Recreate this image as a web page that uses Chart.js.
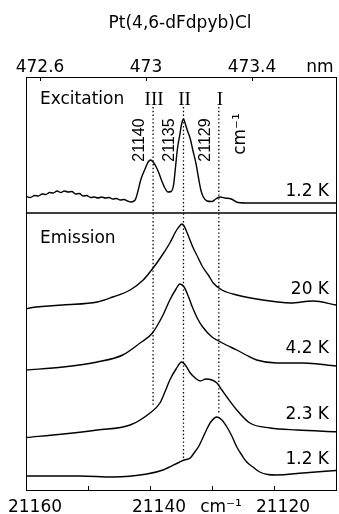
<!DOCTYPE html>
<html><head><meta charset="utf-8">
<script src="https://cdn.jsdelivr.net/npm/chart.js@4"></script>
<style>html,body{margin:0;padding:0;background:#fff;}canvas{display:block;}</style>
</head><body>
<canvas id="c" width="339" height="514"></canvas>
<script>
// ---- text / ticks ----
const chartTitle = 'Pt(4,6-dFdpyb)Cl';
const bottomTicks = [21160, 21150, 21140, 21130, 21120, 21110];
const bottomLabels = ['21160', '', '21140', 'cm\u207B\u00B9', '21120', ''];
const topTicks = [472.6, 473, 473.4];
const topLabels = ['472.6', '473', '473.4'];
const topUnit = 'nm';

// ---- excitation spectrum, 1.2 K (wavenumber cm-1, intensity a.u.) ----
const excWn = [21160.0,21159.3,21158.6,21158.0,21157.4,21156.8,21156.2,21155.6,21155.0,21154.4,21153.8,21153.2,21152.6,21152.0,21151.4,21150.8,21150.2,21149.6,21149.0,21148.4,21147.8,21147.2,21146.6,21146.0,21145.4,21144.8,21144.2,21143.6,21143.1,21142.4,21141.9,21141.5,21140.8,21140.3,21139.9,21139.5,21139.0,21138.5,21138.1,21137.6,21137.1,21136.6,21136.2,21135.9,21135.6,21135.2,21134.9,21134.6,21134.4,21134.0,21133.5,21133.1,21132.6,21132.2,21131.8,21131.4,21130.8,21130.0,21129.4,21128.7,21127.9,21126.9,21125.8,21123.9,21120.0,21115.0,21110.0];
const excI  = [6.5,5.5,7.5,7,9,8.5,10.5,10,12,10.5,12,11,11.5,9,9.5,7,7.5,5.5,6,5,6,5,5.5,4,4.5,3,3.5,2,1,3,13,23,34,41,43,41,36,29,22,15,11,11.5,18,35,53,68,79,84,81,73,64,53,40,26,13,6,2,1.5,4,6,5,4,0.5,0,0,0,0];
const excTemp = '1.2 K';

// ---- emission spectra ----
const emTemps = ['20 K', '4.2 K', '2.3 K', '1.2 K'];
const em20Wn = [21160.0,21159.4,21154.0,21148.5,21146.0,21143.2,21141.1,21140.0,21138.9,21137.7,21136.8,21135.7,21135.2,21134.9,21134.5,21134.0,21133.1,21132.3,21131.5,21130.6,21129.8,21128.4,21126.0,21121.8,21117.4,21113.7,21110.0];
const em20I  = [-4,-3,0,3,8,15,25,33,42,53,62,75,79,81,79,72,58,48,38,30,22,15,10,5,2,4,0];
const em42Wn = [21160.0,21154.0,21148.5,21144.4,21141.6,21139.6,21137.9,21136.8,21135.8,21135.2,21134.5,21133.9,21133.1,21132.3,21131.5,21130.0,21129.2,21127.7,21126.0,21124.5,21122.8,21119.6,21115.3,21110.0];
const em42I  = [-4,-1,4,11,23,33,51,66,77,82,79,71,58,47,39,29,26,21,16,11,6,3,3,0];
const em23Wn = [21160.0,21154.0,21148.5,21143.2,21140.0,21138.4,21137.6,21136.8,21135.8,21134.9,21134.2,21133.5,21132.7,21131.9,21131.0,21130.0,21129.2,21128.4,21127.6,21126.0,21123.9,21120.6,21116.3,21110.0];
const em23I  = [-5.5,-2,2,7,19,29,40,52,63,70,66,59,54,51,53,52,49,42,35,22,9,4,2,0.3];
const em12Wn = [21160.0,21151.3,21146.0,21140.5,21137.9,21135.2,21134.5,21133.5,21132.9,21132.2,21131.5,21130.9,21130.2,21129.2,21128.4,21127.6,21126.8,21126.0,21125.2,21124.4,21123.4,21122.3,21121.0,21119.6,21115.3,21110.0];
const em12I  = [0,0,-1,2,6,14,16,18,23,29,38,46,54,59,56,49,40,29,21,14,9,4,1.5,1,3,5.5];

// ---- stacking offsets (a.u.) ----
const excOffset = 287;
const emOffsets = [185, 124, 58, 14];
const dividerLevel = 277;

// ---- marked lines ----
const lineWn = [21139.5, 21134.6, 21128.9];
const lineRoman = ['III', 'II', 'I'];
const lineLabels = ['21140', '21135', '21129'];
const lineTop = 383;
const lineBottoms = [85, 30, 77];

const pts = (wn, I, off) => wn.map((w, i) => ({x: w, y: I[i] + off}));
const curve = (data) => ({data, borderColor:'#000', borderWidth:1.4, pointRadius:0, fill:false, cubicInterpolationMode:'monotone'});

const datasets = [];
datasets.push(curve(pts(excWn, excI, excOffset)));
const emW = [em20Wn, em42Wn, em23Wn, em12Wn];
const emI = [em20I, em42I, em23I, em12I];
emW.forEach((w, k) => datasets.push(curve(pts(w, emI[k], emOffsets[k]))));
datasets.push({data:[{x:21160,y:dividerLevel},{x:21110,y:dividerLevel}], borderColor:'#000', borderWidth:1.4, pointRadius:0});
lineWn.forEach((w, k) => datasets.push({data:[{x:w,y:lineTop},{x:w,y:lineBottoms[k]}], borderColor:'#000', borderWidth:1.3, borderDash:[1.4,2.4], pointRadius:0}));

const SANS = "'DejaVu Sans', sans-serif";

const deco = {
  id: 'deco',
  afterDraw(chart) {
    const {ctx, chartArea: a, scales} = chart;
    const xs = scales.x, x2 = scales.x2, ys = scales.y;
    ctx.save();
    ctx.strokeStyle = '#000'; ctx.lineWidth = 1;
    // inward ticks
    xs.ticks.forEach(t => { const p = Math.round(xs.getPixelForValue(t.value)) + 0.5; ctx.beginPath(); ctx.moveTo(p, a.bottom); ctx.lineTo(p, a.bottom - 4); ctx.stroke(); });
    x2.ticks.forEach(t => { const p = Math.round(x2.getPixelForValue(t.value)) + 0.5; ctx.beginPath(); ctx.moveTo(p, a.top); ctx.lineTo(p, a.top + 4); ctx.stroke(); });
    ctx.fillStyle = '#000';
    // title
    ctx.font = '17px ' + SANS; ctx.textAlign = 'center'; ctx.textBaseline = 'middle';
    ctx.fillText(chartTitle, (a.left + a.right) / 2 - 1, 24);
    // unit nm
    ctx.fillText(topUnit, a.right - 16, 67.5);
    // panel names
    ctx.textAlign = 'left';
    ctx.fillText('Excitation', a.left + 14, 100);
    ctx.fillText('Emission', a.left + 14, 239);
    // temperature labels
    ctx.textAlign = 'right';
    const lifts = [11, 15, 17, 17, 16];
    const offs = [excOffset].concat(emOffsets);
    const temps = [excTemp].concat(emTemps);
    temps.forEach((t, k) => ctx.fillText(t, a.right - 7, ys.getPixelForValue(offs[k] + lifts[k])));
    // roman numerals
    ctx.font = "19px 'Liberation Serif', serif"; ctx.textAlign = 'center';
    lineWn.forEach((w, k) => ctx.fillText(lineRoman[k], xs.getPixelForValue(w) + 1, 100));
    // rotated wavenumber labels
    ctx.font = "16px 'Liberation Sans', sans-serif";
    lineWn.forEach((w, k) => {
      ctx.save(); ctx.translate(xs.getPixelForValue(w) - 13.5, 140); ctx.rotate(-Math.PI / 2);
      ctx.textAlign = 'center'; ctx.textBaseline = 'middle'; ctx.fillText(lineLabels[k], 0, 0); ctx.restore();
    });
    ctx.font = "17px 'DejaVu Sans', sans-serif";
    ctx.save(); ctx.translate(xs.getPixelForValue(lineWn[2]) + 22, 134); ctx.rotate(-Math.PI / 2);
    ctx.textAlign = 'center'; ctx.textBaseline = 'middle'; ctx.fillText('cm\u207B\u00B9', 0, 0); ctx.restore();
    ctx.restore();
  }
};

const border = {display:true, color:'#000', width:1};
new Chart(document.getElementById('c'), {
  type: 'line',
  data: {datasets},
  options: {
    responsive:false, animation:false, devicePixelRatio:1,
    layout:{padding:{left:26, right:3, top:0, bottom:0}},
    plugins:{legend:{display:false}, tooltip:{enabled:false}, title:{display:false}},
    scales:{
      x:{type:'linear', position:'bottom', reverse:true, min:21110, max:21160,
         border, grid:{drawOnChartArea:false, drawTicks:false},
         afterBuildTicks:s=>{ s.ticks = bottomTicks.map(v=>({value:v})); },
         afterFit:s=>{ s.height = 24; s.paddingLeft = 0; s.paddingRight = 0; },
         ticks:{autoSkip:false, maxRotation:0, minRotation:0, padding:9, labelOffset:9, color:'#000',
                font:{family:SANS, size:17, lineHeight:1},
                callback:(v)=>{ const i = bottomTicks.indexOf(v); return i >= 0 ? bottomLabels[i] : ''; }}},
      x2:{type:'linear', position:'top', min:472.547, max:473.717,
         border, grid:{drawOnChartArea:false, drawTicks:false},
         afterBuildTicks:s=>{ s.ticks = topTicks.map(v=>({value:v})); },
         afterFit:s=>{ s.height = 77; s.paddingLeft = 0; s.paddingRight = 0; },
         ticks:{autoSkip:false, maxRotation:0, minRotation:0, padding:1, color:'#000',
                font:{family:SANS, size:17, lineHeight:1},
                callback:(v)=>{ const i = topTicks.indexOf(v); return i >= 0 ? topLabels[i] : ''; }}},
      y:{type:'linear', position:'left', min:0, max:413, border,
         grid:{drawOnChartArea:false, drawTicks:false}, ticks:{display:false},
         afterFit:s=>{ s.width = 0; }},
      y2:{type:'linear', position:'right', min:0, max:413, border,
         grid:{drawOnChartArea:false, drawTicks:false}, ticks:{display:false},
         afterFit:s=>{ s.width = 0; }}
    }
  },
  plugins:[deco]
});
</script>
</body></html>
